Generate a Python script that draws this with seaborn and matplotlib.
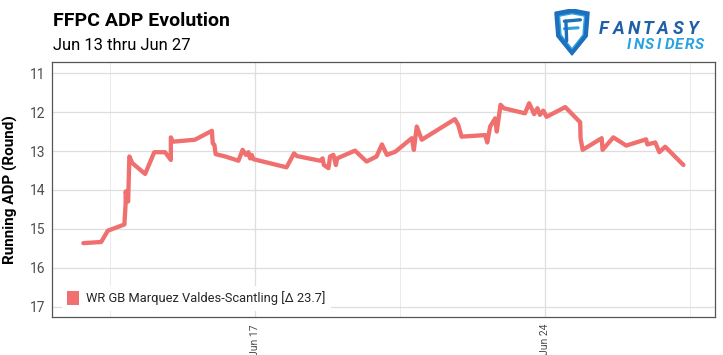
import numpy as np
import pandas as pd
import matplotlib
matplotlib.use("Agg")
import matplotlib.pyplot as plt
from matplotlib.patches import Patch, PathPatch
from matplotlib.path import Path
import seaborn as sns

# ---- data ----
june_day = [12.86, 13.29, 13.45, 13.85, 13.88, 13.88, 13.94, 13.97, 14.04, 14.35,
            14.57, 14.83, 14.97, 14.97, 15.02, 15.55, 15.96, 15.98, 16.02, 16.05,
            16.28, 16.60, 16.70, 16.78, 16.84, 16.88, 16.92, 16.96, 17.76, 17.94,
            18.01, 18.57, 18.63, 18.66, 18.77, 18.81, 18.89, 18.95, 18.98, 19.41,
            19.69, 19.93, 20.06, 20.18, 20.38, 20.78, 20.83, 20.90, 21.02, 21.82,
            21.90, 21.98, 22.55, 22.60, 22.67, 22.79, 22.83, 22.92, 23.00, 23.51,
            23.61, 23.73, 23.81, 23.87, 23.95, 24.03, 24.48, 24.84, 24.85, 24.90,
            25.36, 25.38, 25.64, 25.95, 26.43, 26.46, 26.65, 26.75, 26.89, 27.33]
running_adp = [15.37, 15.34, 15.05, 14.89, 14.34, 14.04, 14.30, 13.14, 13.31, 13.59,
               13.03, 13.03, 13.23, 12.65, 12.76, 12.71, 12.48, 12.80, 12.84, 13.08,
               13.14, 13.25, 12.97, 13.10, 13.03, 13.19, 13.10, 13.21, 13.42, 13.06,
               13.13, 13.25, 13.19, 13.36, 13.44, 13.14, 13.10, 13.36, 13.19, 12.99,
               13.27, 13.14, 12.83, 13.10, 13.02, 12.67, 12.97, 12.37, 12.71, 12.18,
               12.33, 12.63, 12.59, 12.78, 12.37, 12.16, 12.50, 11.81, 11.90, 12.03,
               11.77, 12.05, 11.90, 12.07, 11.96, 12.12, 11.87, 12.26, 12.67, 12.97,
               12.67, 12.97, 12.65, 12.86, 12.70, 12.83, 12.78, 13.03, 12.89, 13.36]
player = "WR GB Marquez Valdes-Scantling [Δ 23.7]"
y_ticks = [11, 12, 13, 14, 15, 16, 17]
x_tick_dates = ["2022-06-17", "2022-06-24"]
title = "FFPC ADP Evolution"
subtitle = "Jun 13 thru Jun 27"
logo_top = "FANTASY"
logo_bottom = "INSIDERS"

dates = pd.Timestamp("2022-06-01") + pd.to_timedelta(np.array(june_day) - 1, unit="D")
df = pd.DataFrame({"date": dates, "adp": running_adp, "player": player})

# ---- style ----
sns.set_theme(style="white")
plt.rcParams["font.family"] = ["Roboto", "DejaVu Sans"]

W, H = 723, 355
fig = plt.figure(figsize=(W / 100, H / 100), dpi=100)
ax = fig.add_axes([52 / W, 38 / H, 663 / W, 255 / H])

line_color = "#F07070"
sns.lineplot(data=df, x="date", y="adp", color=line_color, linewidth=3.1,
             ax=ax, legend=False, estimator=None, sort=False)

ax.set_ylim(17.27, 10.71)
ax.set_yticks(y_ticks)
ax.set_yticklabels([str(t) for t in y_ticks], fontsize=10, color="#4D4D4D")

x0 = pd.Timestamp("2022-06-12") + pd.Timedelta(hours=2.5)
x1 = pd.Timestamp("2022-06-28") + pd.Timedelta(hours=2.2)
ax.set_xlim(x0, x1)
xt = pd.to_datetime(x_tick_dates)
ax.set_xticks(xt)
ax.set_xticklabels([d.strftime("%b %d") for d in xt], rotation=90, fontsize=7.5,
                   color="#4D4D4D")
minor = pd.to_datetime(["2022-06-13 12:00", "2022-06-20 12:00", "2022-06-27 12:00"])
ax.set_xticks(minor, minor=True)

ax.grid(True, which="major", color="#DEDEDE", linewidth=0.9)
ax.grid(True, which="minor", axis="x", color="#EBEBEB", linewidth=0.7)
ax.set_axisbelow(True)
ax.tick_params(axis="both", which="major", length=3, width=0.6, color="#555555", pad=2)
ax.tick_params(axis="x", which="minor", length=0)
for s in ax.spines.values():
    s.set_color("#555555")
    s.set_linewidth(0.9)

ax.set_xlabel("")
ax.set_ylabel("Running ADP (Round)", fontsize=11, fontweight="bold", color="black", labelpad=4)
ax.yaxis.set_label_coords(-0.052, 0.5)

leg = ax.legend(handles=[Patch(facecolor=line_color, edgecolor="none", label=player)],
                loc="lower left", bbox_to_anchor=(0.005, 0.0), frameon=True, fontsize=9.3,
                handlelength=0.9, handleheight=1.2, handletextpad=0.6, borderpad=0.4)
leg.get_frame().set_facecolor("white")
leg.get_frame().set_edgecolor("none")
leg.get_frame().set_alpha(1.0)

# ---- titles ----
fig.text(53 / W, 1 - 26 / H, title, fontsize=14, fontweight="bold",
         color="black", ha="left", va="baseline")
fig.text(53 / W, 1 - 50 / H, subtitle, fontsize=12, color="black",
         ha="left", va="baseline")

# ---- logo ----
for i, ch in enumerate(logo_top):
    fig.text((604 + i * 14.8) / W, 1 - 34 / H, ch, fontsize=13, fontweight="bold",
             style="italic", color="#1F5FA6", ha="center", va="baseline")
for i, ch in enumerate(logo_bottom):
    fig.text((629 + i * 10.1) / W, 1 - 49 / H, ch, fontsize=11, fontweight="bold",
             style="italic", color="#29A3DF", ha="center", va="baseline")

lax = fig.add_axes([553 / W, 1 - 56 / H, 38 / W, 47 / H])
lax.set_xlim(0, 1)
lax.set_ylim(0, 1)
lax.axis("off")
outer = [(0.05, 0.93), (0.5, 1.0), (0.95, 0.93), (0.9, 0.42), (0.5, 0.02),
         (0.1, 0.42), (0.05, 0.93)]
inner = [(0.17, 0.85), (0.5, 0.9), (0.83, 0.85), (0.79, 0.45), (0.5, 0.15),
         (0.21, 0.45), (0.17, 0.85)]
lax.add_patch(PathPatch(Path(outer), facecolor="#1F6FBF", edgecolor="#1F6FBF", linewidth=1))
lax.add_patch(PathPatch(Path(inner), facecolor="white", edgecolor="#29A3DF", linewidth=1))
lax.plot([0.3, 0.72], [0.74, 0.77], color="#1F6FBF", lw=2.4, solid_capstyle="round")
lax.plot([0.3, 0.66], [0.58, 0.6], color="#29A3DF", lw=2.2, solid_capstyle="round")
lax.plot([0.34, 0.36], [0.74, 0.32], color="#1F6FBF", lw=2.4, solid_capstyle="round")

fig.savefig("out.png", dpi=100)
